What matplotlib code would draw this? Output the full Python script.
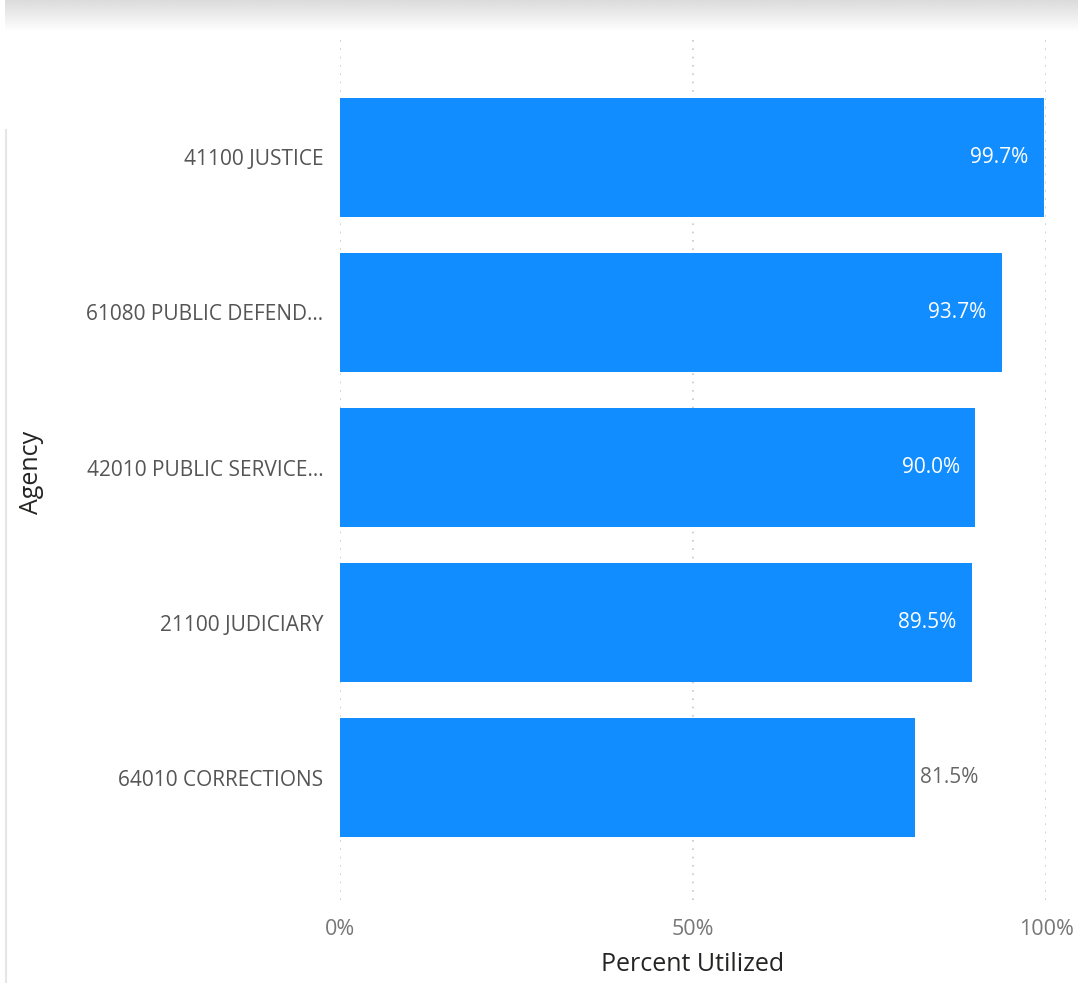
import matplotlib
matplotlib.use("Agg")
import matplotlib.pyplot as plt
import numpy as np

agencies = ["41100 JUSTICE", "61080 PUBLIC DEFEND...", "42010 PUBLIC SERVICE...",
            "21100 JUDICIARY", "64010 CORRECTIONS"]
percent_utilized = [99.7, 93.7, 90.0, 89.5, 81.5]
x_ticks = [0, 50, 100]
x_tick_labels = ["0%", "50%", "100%"]

plt.rcParams['font.family'] = ['Open Sans', 'DejaVu Sans']

fig = plt.figure(figsize=(10.78, 9.83), dpi=100)
fig.patch.set_facecolor("white")

# top shadow band
shadow = fig.add_axes([0.005, 1 - 32/983, 0.995, 32/983])
grad = np.linspace(0.86, 1.0, 50).reshape(-1, 1)
shadow.imshow(np.repeat(grad, 2, axis=1), cmap="gray", vmin=0, vmax=1, aspect="auto",
              extent=[0, 1, 0, 1], origin="upper")
shadow.set_axis_off()

ax = fig.add_axes([340/1078, 1 - 900/983, 706/1078, 865/983])
y = np.arange(len(agencies))
ax.barh(y, percent_utilized, height=0.77, color="#118DFF", zorder=2)
ax.set_ylim(len(agencies) - 1 + 0.79, -0.79)
ax.set_xlim(0, 100)

for yi, v in zip(y, percent_utilized):
    label = f"{v:.1f}%"
    if v > 85:
        ax.text(v - 2.2, yi, label, ha="right", va="center", color="white", fontsize=15)
    else:
        ax.text(v + 0.7, yi, label, ha="left", va="center", color="#666666", fontsize=15)

ax.set_xticks(x_ticks)
ax.set_xticklabels(x_tick_labels, fontsize=15.5, color="#777777")
ax.set_yticks(y)
ax.set_yticklabels(agencies, fontsize=15, color="#555555")
ax.tick_params(axis="both", length=0)
ax.tick_params(axis="x", pad=14)
ax.tick_params(axis="y", pad=12)
ax.grid(axis="x", linestyle=(0, (1, 4)), color="#C8C8C8", linewidth=1.2, zorder=0)
for s in ax.spines.values():
    s.set_visible(False)

ax.set_xlabel("Percent Utilized", fontsize=18, color="#252423", labelpad=8)
fig.text(32/1078, 1 - 472/983, "Agency", rotation=90, ha="center", va="center",
         fontsize=18, color="#252423")

# faint left border line
fig.add_artist(plt.Line2D([6/1078, 6/1078], [0, 1 - 130/983], color="#E6E6E6", linewidth=1.5))

fig.savefig("out.png", dpi=100, facecolor="white")
